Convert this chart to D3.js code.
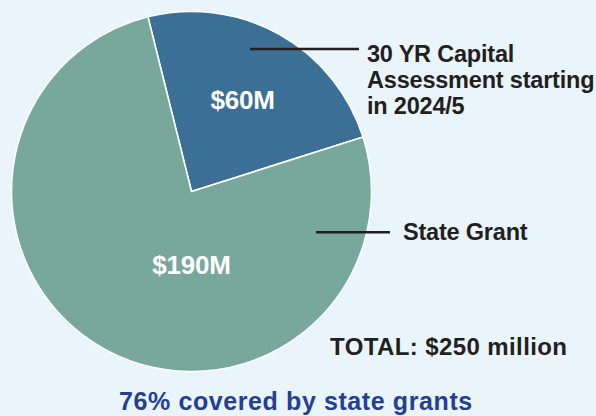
<!DOCTYPE html>
<html>
<head>
<meta charset="utf-8">
<script src="https://cdn.jsdelivr.net/npm/d3@7"></script>
<style>
  html, body { margin: 0; padding: 0; background: #e9f4fb; }
  svg { display: block; font-family: "Liberation Sans", Arial, Helvetica, sans-serif; font-weight: bold; }
</style>
</head>
<body>
<div id="chart"></div>
<script>
// --- data ------------------------------------------------------------
var categories = ["30 YR Capital Assessment starting in 2024/5", "State Grant"];
var values = [60, 190];                       // $ millions
var valueLabels = ["$60M", "$190M"];
var legendLines = [["30 YR Capital", "Assessment starting", "in 2024/5"], ["State Grant"]];
var totalLabel = "TOTAL: $250 million";
var footLabel = "76% covered by state grants";

// --- layout ----------------------------------------------------------
var W = 596, H = 416;
var cx = 191.5, cy = 191.5, R = 180;
var startDeg = -14;                           // first slice starts just left of 12 o'clock
var colors = ["#3c6f95", "#78a89b"];
var ink = "#231f20";

// where each value label sits (polar, degrees clockwise from top) and each leader
var labelPos = [{ deg: 29.5, r: 104 }, { deg: 180, r: 75 }];
var leaders = [
  { deg: 22.3, r: 154, x2: 359, tx: 367, lineH: 26, dy: 12.5 },
  { deg: 108.1, r: 131, x2: 390, tx: 403, lineH: 26, dy: 8 }
];

var svg = d3.select("#chart").append("svg").attr("width", W).attr("height", H);
svg.append("rect").attr("width", W).attr("height", H).attr("fill", "#e9f4fb");

var rad = function (d) { return d * Math.PI / 180; };
var pie = d3.pie().sort(null).value(function (d) { return d; })
  .startAngle(rad(startDeg)).endAngle(rad(startDeg + 360));
var arcs = pie(values);
var arc = d3.arc().innerRadius(0).outerRadius(R);

var g = svg.append("g").attr("transform", "translate(" + cx + "," + cy + ")");

g.selectAll("path.slice").data(arcs).enter().append("path")
  .attr("class", "slice")
  .attr("d", arc)
  .attr("fill", function (d, i) { return colors[i]; })
  .attr("stroke", "#ffffff").attr("stroke-width", 1.6)
  .attr("stroke-linejoin", "round");

function polar(deg, r) {
  return [r * Math.sin(rad(deg)), -r * Math.cos(rad(deg))];
}

// value labels in white
g.selectAll("text.val").data(arcs).enter().append("text")
  .attr("class", "val")
  .attr("x", function (d, i) { return polar(labelPos[i].deg, labelPos[i].r)[0]; })
  .attr("y", function (d, i) { return polar(labelPos[i].deg, labelPos[i].r)[1]; })
  .attr("dy", "0.3em")
  .attr("text-anchor", "middle")
  .attr("fill", "#ffffff")
  .style("font-size", "26px")
  .style("letter-spacing", "-0.2px")
  .text(function (d, i) { return valueLabels[i]; });

// leader lines + category labels
leaders.forEach(function (L, i) {
  var p = polar(L.deg, L.r);
  var y0 = cy + p[1];
  svg.append("line")
    .attr("x1", cx + p[0]).attr("x2", L.x2)
    .attr("y1", y0).attr("y2", y0)
    .attr("stroke", ink).attr("stroke-width", 2.4);
  var t = svg.append("text")
    .attr("x", L.tx).attr("y", y0 + L.dy)
    .attr("fill", ink)
    .style("font-size", "23.5px")
    .style("letter-spacing", "-0.2px");
  legendLines[i].forEach(function (s, k) {
    t.append("tspan").attr("x", L.tx).attr("dy", k === 0 ? 0 : L.lineH).text(s);
  });
});

// total + footer
svg.append("text")
  .attr("x", 330).attr("y", 355)
  .attr("fill", ink)
  .style("font-size", "24px")
  .style("letter-spacing", "0.4px")
  .text(totalLabel);

svg.append("text")
  .attr("x", 119).attr("y", 409.5)
  .attr("fill", "#243f93")
  .style("font-size", "25px")
  .style("letter-spacing", "0.6px")
  .text(footLabel);
</script>
</body>
</html>
